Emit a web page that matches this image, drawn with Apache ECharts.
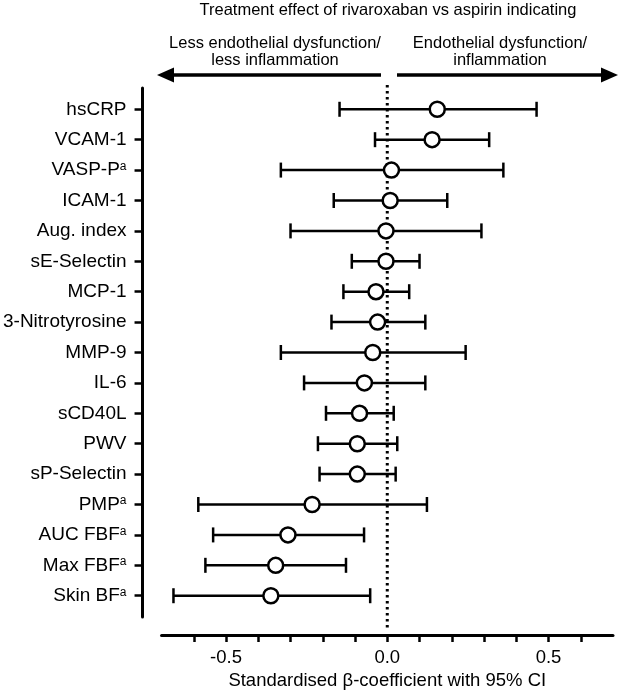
<!DOCTYPE html>
<html>
<head>
<meta charset="utf-8">
<script src="https://cdn.jsdelivr.net/npm/echarts@6/dist/echarts.min.js"></script>
<style>
  html, body { margin: 0; padding: 0; background: #fff; }
  #forest { width: 619px; height: 697px; }
</style>
</head>
<body>
<div id="forest"></div>
<script>
// markers, top to bottom
const markers = ['hsCRP', 'VCAM-1', 'VASP-P', 'ICAM-1', 'Aug. index', 'sE-Selectin', 'MCP-1',
  '3-Nitrotyrosine', 'MMP-9', 'IL-6', 'sCD40L', 'PWV', 'sP-Selectin', 'PMP', 'AUC FBF', 'Max FBF', 'Skin BF'];
const footnote = ['', '', 'a', '', '', '', '', '', '', '', '', '', '', 'a', 'a', 'a', 'a'];
const beta = [0.155, 0.139, 0.013, 0.009, -0.004, -0.004, -0.035, -0.030, -0.045, -0.071,
  -0.086, -0.093, -0.093, -0.233, -0.308, -0.346, -0.361];
const ciLow = [-0.148, -0.038, -0.330, -0.166, -0.300, -0.110, -0.136, -0.173, -0.330, -0.258,
  -0.190, -0.215, -0.210, -0.586, -0.540, -0.564, -0.663];
const ciHigh = [0.463, 0.316, 0.360, 0.186, 0.292, 0.100, 0.068, 0.118, 0.243, 0.118,
  0.020, 0.031, 0.026, 0.123, -0.072, -0.128, -0.053];
const xTicks = [-0.6, -0.5, -0.4, -0.3, -0.2, -0.1, 0, 0.1, 0.2, 0.3, 0.4, 0.5, 0.6];
const xLabels = [-0.5, 0, 0.5];

const FONT = '"Liberation Sans", Arial, sans-serif';
const rows = markers.map((m, i) => i);

const chart = echarts.init(document.getElementById('forest'));

const option = {
  backgroundColor: '#fff',
  animation: false,
  textStyle: { fontFamily: FONT, color: '#000' },
  grid: { left: 160, right: 6, top: 88, height: 529 },
  xAxis: {
    type: 'value',
    min: -0.7,
    max: 0.7,
    offset: 18,
    axisLine: { onZero: false, lineStyle: { color: '#000', width: 3 } },
    axisTick: { customValues: xTicks, length: 7, lineStyle: { color: '#000', width: 2.5 } },
    axisLabel: {
      customValues: xLabels,
      margin: 13,
      fontSize: 18.5,
      color: '#000',
      fontFamily: FONT,
      formatter: (v) => v.toFixed(1)
    },
    splitLine: { show: false },
    name: 'Standardised β-coefficient with 95% CI',
    nameLocation: 'middle',
    nameGap: 33,
    nameTextStyle: { fontSize: 18.5, color: '#000', fontFamily: FONT }
  },
  yAxis: {
    type: 'value',
    inverse: true,
    min: -0.7,
    max: 16.7,
    offset: 19,
    axisLine: { show: true, onZero: false, lineStyle: { color: '#000', width: 3 } },
    axisTick: { show: true, customValues: rows, length: 8, lineStyle: { color: '#000', width: 2.5 } },
    axisLabel: {
      customValues: rows,
      margin: 16,
      fontSize: 19,
      color: '#000',
      fontFamily: FONT,
      formatter: (v) => {
        const i = Math.round(v);
        return footnote[i] ? markers[i] + '{sup|' + footnote[i] + '}' : markers[i];
      },
      rich: {
        sup: { fontSize: 12, verticalAlign: 'top', color: '#000', fontFamily: FONT, padding: [0, 0, 7, 0] }
      }
    },
    splitLine: { show: false }
  },
  graphic: [
    {
      type: 'text', x: 388, y: 10,
      style: { text: 'Treatment effect of rivaroxaban vs aspirin indicating', font: '16.5px ' + FONT, fill: '#000',
        align: 'center', verticalAlign: 'middle' }
    },
    {
      type: 'text', x: 275, y: 52,
      style: { text: 'Less endothelial dysfunction/\nless inflammation', font: '16.5px ' + FONT, fill: '#000',
        align: 'center', verticalAlign: 'middle', lineHeight: 17 }
    },
    {
      type: 'text', x: 500, y: 52,
      style: { text: 'Endothelial dysfunction/\ninflammation', font: '16.5px ' + FONT, fill: '#000',
        align: 'center', verticalAlign: 'middle', lineHeight: 17 }
    },
    { type: 'line', shape: { x1: 381, y1: 75, x2: 170, y2: 75 }, style: { stroke: '#000', lineWidth: 3.5 } },
    { type: 'polygon', shape: { points: [[157, 75], [174, 67.5], [174, 82.5]] }, style: { fill: '#000' } },
    { type: 'line', shape: { x1: 397, y1: 75, x2: 605, y2: 75 }, style: { stroke: '#000', lineWidth: 3.5 } },
    { type: 'polygon', shape: { points: [[618, 75], [601, 67.5], [601, 82.5]] }, style: { fill: '#000' } }
  ],
  series: [
    {
      // dotted no-effect line at 0, running past the plot area like the original
      type: 'custom',
      data: [[0]],
      clip: false,
      silent: true,
      z: 1,
      renderItem: (params, api) => {
        const top = api.coord([api.value(0), -0.7]);
        const bottom = api.coord([api.value(0), 16.7]);
        return {
          type: 'line',
          shape: { x1: top[0], y1: top[1] - 3, x2: bottom[0], y2: bottom[1] + 14 },
          style: { stroke: '#000', lineWidth: 3, lineDash: [2.5, 3.5] }
        };
      }
    },
    {
      type: 'custom',
      data: rows.map((i) => [ciLow[i], ciHigh[i], i]),
      clip: false,
      silent: true,
      z: 2,
      renderItem: (params, api) => {
        const a = api.coord([api.value(0), api.value(2)]);
        const b = api.coord([api.value(1), api.value(2)]);
        const h = 7.5;
        const st = { stroke: '#000', lineWidth: 2.5 };
        return {
          type: 'group',
          children: [
            { type: 'line', shape: { x1: a[0], y1: a[1], x2: b[0], y2: b[1] }, style: st },
            { type: 'line', shape: { x1: a[0], y1: a[1] - h, x2: a[0], y2: a[1] + h }, style: st },
            { type: 'line', shape: { x1: b[0], y1: b[1] - h, x2: b[0], y2: b[1] + h }, style: st }
          ]
        };
      }
    },
    {
      type: 'scatter',
      data: rows.map((i) => [beta[i], i]),
      symbol: 'circle',
      symbolSize: 15,
      silent: true,
      z: 3,
      itemStyle: { color: '#fff', borderColor: '#000', borderWidth: 2.5, opacity: 1 }
    }
  ]
};

option && chart.setOption(option);
</script>
</body>
</html>
